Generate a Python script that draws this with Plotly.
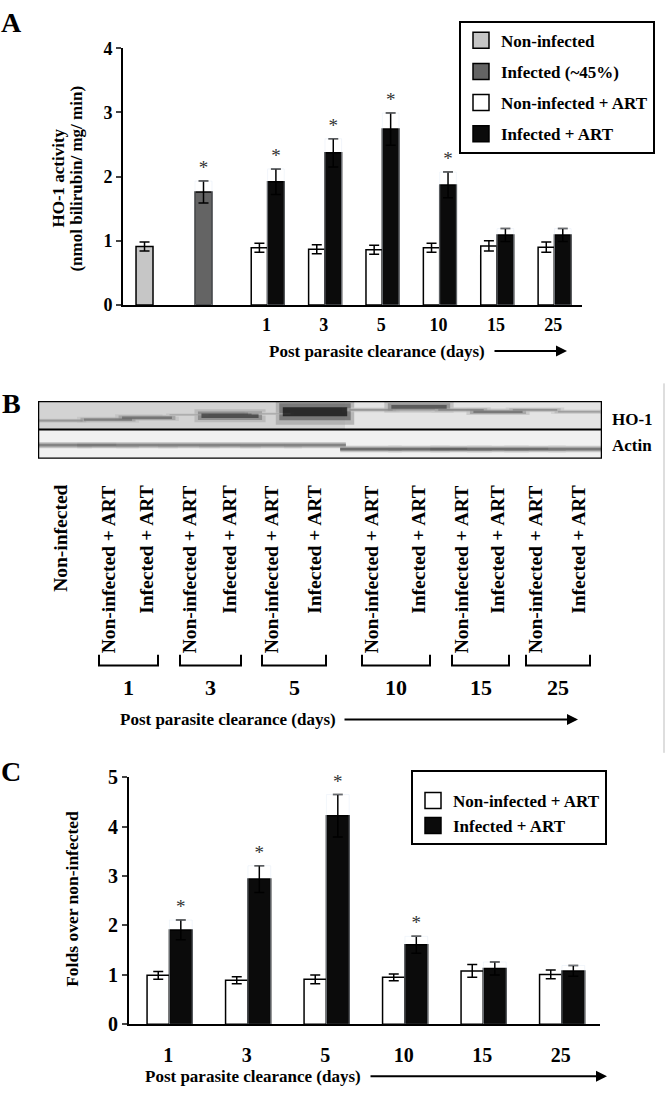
import plotly.graph_objects as go

W, H = 666, 1097
SERIF = "Liberation Serif, Times New Roman, serif"

# ---- panel A: HO-1 activity (nmol bilirubin / mg / min)
days = ["1", "3", "5", "10", "15", "25"]
ctrl_mean, ctrl_sd = [0.91], [0.07]
inf_mean, inf_sd = [1.76], [0.17]
a_ni_art = [0.89, 0.87, 0.86, 0.89, 0.92, 0.90]
a_ni_art_sd = [0.07, 0.07, 0.07, 0.07, 0.08, 0.08]
a_inf_art = [1.92, 2.37, 2.74, 1.87, 1.09, 1.09]
a_inf_art_sd = [0.20, 0.22, 0.25, 0.20, 0.10, 0.10]
a_sig = [True, True, True, True, False, False]

# ---- panel C: folds over non-infected
c_ni_art = [0.99, 0.89, 0.91, 0.95, 1.08, 1.01]
c_ni_art_sd = [0.08, 0.07, 0.09, 0.07, 0.13, 0.09]
c_inf_art = [1.91, 2.94, 4.22, 1.61, 1.13, 1.08]
c_inf_art_sd = [0.20, 0.27, 0.43, 0.17, 0.13, 0.11]
c_sig = [True, True, True, True, False, False]

# ---- panel B: western blot, band darkness 0..1
lanes = ["Non-infected"] + ["Non-infected + ART", "Infected + ART"] * 6
ho1_density = [0.42, 0.55, 0.60, 0.30, 0.80, 0.30, 1.00, 0.42, 0.75, 0.48, 0.58, 0.45, 0.38]
actin_density = [0.45, 0.50, 0.45, 0.45, 0.45, 0.45, 0.45, 0.55, 0.55, 0.60, 0.55, 0.55, 0.50]

# layout helpers (pixel -> paper)
def px(x):
    return x / W

def py(y):
    return 1 - y / H

lane_x = [61, 108, 147, 189, 230, 271, 315, 371, 419, 461, 498, 535, 579]
ho1_y = [418, 417, 415, 412, 413, 411, 409, 407, 404, 407, 409, 407, 409]
actin_y = [443] * 7 + [447] * 6

C_CTRL, C_INF, C_NI_ART, C_INF_ART = "#c6c6c6", "#646464", "#ffffff", "#0b0b0b"
ERR = dict(type="data", visible=True, color="black", thickness=1.5, width=5)

fig = go.Figure()


def bars(x, y, sd, color, off, wid, xa, ya):
    fig.add_trace(go.Bar(x=x, y=y, offset=off, width=wid, xaxis=xa, yaxis=ya,
                         marker=dict(color=color, line=dict(color="black", width=1.5)),
                         error_y=dict(array=sd, **ERR), showlegend=False, hoverinfo="skip"))


def stars(x, y, sd, sig, off, wid, xa, ya):
    fig.add_trace(go.Bar(x=x, y=[v + e for v, e in zip(y, sd)], offset=off, width=wid,
                         xaxis=xa, yaxis=ya, marker=dict(color="rgba(0,0,0,0)"),
                         text=["*" if s else "" for s in sig], textposition="outside",
                         constraintext="none", cliponaxis=False,
                         textfont=dict(family=SERIF, size=19, color="#333"),
                         showlegend=False, hoverinfo="skip"))


# panel A bars
bars(["ctrl"], ctrl_mean, ctrl_sd, C_CTRL, -0.273, 0.296, "x", "y")
bars(["inf"], inf_mean, inf_sd, C_INF, -0.245, 0.296, "x", "y")
stars(["inf"], inf_mean, inf_sd, [True], -0.245, 0.296, "x", "y")
bars(days, a_ni_art, a_ni_art_sd, C_NI_ART, -0.265, 0.285, "x", "y")
bars(days, a_inf_art, a_inf_art_sd, C_INF_ART, 0.02, 0.29, "x", "y")
stars(days, a_inf_art, a_inf_art_sd, a_sig, 0.02, 0.29, "x", "y")

# panel C bars
bars(days, c_ni_art, c_ni_art_sd, C_NI_ART, -0.27, 0.285, "x2", "y2")
bars(days, c_inf_art, c_inf_art_sd, C_INF_ART, 0.015, 0.29, "x2", "y2")
stars(days, c_inf_art, c_inf_art_sd, c_sig, 0.015, 0.29, "x2", "y2")

# legend entries
for name, col, leg in [("Non-infected", C_CTRL, "legend"), ("Infected (~45%)", C_INF, "legend"),
                       ("Non-infected + ART", C_NI_ART, "legend"), ("Infected + ART", C_INF_ART, "legend"),
                       ("Non-infected + ART", C_NI_ART, "legend2"), ("Infected + ART", C_INF_ART, "legend2")]:
    fig.add_trace(go.Scatter(x=[None], y=[None], mode="markers", name=name, legend=leg,
                             legendgroup=name + leg,
                             marker=dict(symbol="square", size=16, color=col,
                                         line=dict(color="black", width=1.5))))


# panel B blot bands: layered from soft halo to dark core
def gray(d, soften=0.0):
    g = int(232 - 222 * d * (1 - soften))
    return f"rgb({g},{g},{g})"


for soften, grow, scale in [(0.7, 10, 2.0), (0.4, 5, 1.3), (0.0, 0, 0.7)]:
    fig.add_trace(go.Scatter(
        x=lane_x, y=ho1_y, mode="markers", xaxis="x3", yaxis="y3",
        marker=dict(symbol="line-ew", size=[20 + 26 * d + grow for d in ho1_density],
                    line=dict(width=[(2 + 11 * d ** 4) * scale for d in ho1_density],
                              color=[gray(d, soften) for d in ho1_density])),
        showlegend=False, hoverinfo="skip"))
    fig.add_trace(go.Scatter(
        x=lane_x, y=actin_y, mode="markers", xaxis="x3", yaxis="y3",
        marker=dict(symbol="line-ew", size=44,
                    line=dict(width=3.2 * scale, color=[gray(d, soften) for d in actin_density])),
        showlegend=False, hoverinfo="skip"))

tick_font = dict(family=SERIF, size=18, color="black", weight="bold")
ax_common = dict(showgrid=False, zeroline=False, showline=True, linecolor="black", linewidth=2,
                 fixedrange=True)

fig.update_layout(
    width=W, height=H, margin=dict(l=0, r=0, t=0, b=0),
    paper_bgcolor="white", plot_bgcolor="white", barmode="overlay",
    font=dict(family=SERIF, color="black"),
    xaxis=dict(domain=[px(123), px(582)], type="category", range=[-0.5, 7.5],
               categoryorder="array", categoryarray=["ctrl", "inf"] + days,
               tickvals=days, ticktext=days, ticks="", ticklabelstandoff=2,
               tickfont=tick_font, **ax_common),
    yaxis=dict(domain=[py(300), py(38)], range=[0, 4], dtick=1, ticks="outside", ticklen=5,
               tickwidth=2, tickfont=tick_font, **ax_common),
    xaxis2=dict(domain=[px(129), px(600)], type="category", range=[-0.5, 5.5],
                ticks="", ticklabelstandoff=12, tickfont=dict(tick_font, size=20), anchor="y2",
                **ax_common),
    yaxis2=dict(domain=[py(1034), py(782)], range=[0, 5], dtick=1, ticks="outside", ticklen=5,
                tickwidth=2, tickfont=dict(tick_font, size=20), anchor="x2", **ax_common),
    xaxis3=dict(domain=[px(38), px(602)], range=[38, 602], visible=False, anchor="y3"),
    yaxis3=dict(domain=[py(457), py(398)], range=[457, 398], visible=False, anchor="x3"),
    legend=dict(x=px(459), y=py(10), xanchor="left", yanchor="top", bgcolor="white",
                bordercolor="black", borderwidth=2, tracegroupgap=6,
                font=dict(family=SERIF, size=17, weight="bold")),
    legend2=dict(x=px(411), y=py(775), xanchor="left", yanchor="top", bgcolor="white",
                 bordercolor="black", borderwidth=2, tracegroupgap=0,
                 title=dict(text=" ", font=dict(size=8)),
                 font=dict(family=SERIF, size=17, weight="bold")),
)

shapes = [
    dict(type="rect", xref="x3", yref="y3", x0=38, x1=345, y0=398, y1=427, layer="below",
         fillcolor="#d3d3d3", line_width=0),
    dict(type="rect", xref="x3", yref="y3", x0=345, x1=602, y0=398, y1=427, layer="below",
         fillcolor="#e4e4e4", line_width=0),
    dict(type="rect", xref="x3", yref="y3", x0=38, x1=602, y0=427, y1=457, layer="below",
         fillcolor="#f1f1f1", line_width=0),
    dict(type="rect", xref="x3", yref="y3", x0=38, x1=602, y0=398, y1=457,
         line=dict(color="black", width=2.5)),
    dict(type="line", xref="x3", yref="y3", x0=38, x1=602, y0=427, y1=427,
         line=dict(color="black", width=2)),
    dict(type="line", xref="paper", yref="paper", x0=px(664), x1=px(664), y0=py(380), y1=py(757),
         line=dict(color="#bdbdbd", width=1)),
]

annotations = []


def note(text, x, y, size, **kw):
    opts = dict(xanchor="center", yanchor="middle")
    opts.update(kw)
    annotations.append(dict(text=text, x=px(x), y=py(y), xref="paper", yref="paper",
                            showarrow=False, font=dict(family=SERIF, size=size, color="black"),
                            **opts))


def arrow(x0, x1, y):
    annotations.append(dict(text="", x=px(x1), y=py(y), xref="paper", yref="paper",
                            ax=-(x1 - x0), ay=0, showarrow=True, arrowhead=2, arrowsize=1.1,
                            arrowwidth=2, arrowcolor="black"))


# panel letters
note("<b>A</b>", 11, 12, 28)
note("<b>B</b>", 11, 401, 28)
note("<b>C</b>", 11, 776, 28)

# panel A titles
note("<b>HO-1 activity</b>", 59, 171, 17, textangle=-90)
note("<b>(nmol bilirubin/ mg/ min)</b>", 77, 171, 17, textangle=-90)
note("<b>Post parasite clearance (days)</b>", 377, 347, 17)
arrow(493, 567, 347)

# panel B labels
note("<b>HO-1</b>", 610, 417, 17, xanchor="left")
note("<b>Actin</b>", 610, 443, 17, xanchor="left")
for name, x in zip(lanes, lane_x):
    note(f"<b>{name}</b>", x, 482, 19.5, textangle=-90, yanchor="top")
pairs = [(lane_x[1 + 2 * i], lane_x[2 + 2 * i]) for i in range(6)]
for d, (a, b) in zip(days, pairs):
    x0, x1 = a - 9, b + 11
    shapes.append(dict(type="path", xref="x3", yref="paper",
                       path=f"M{x0},{py(657)} L{x0},{py(668)} L{x1},{py(668)} L{x1},{py(657)}",
                       line=dict(color="black", width=2)))
    note(f"<b>{d}</b>", (x0 + x1) / 2, 690, 22)
note("<b>Post parasite clearance (days)</b>", 228, 723, 17)
arrow(343, 578, 723)

# panel C titles
note("<b>Folds over non-infected</b>", 72, 906, 17.5, textangle=-90)
note("<b>Post parasite clearance (days)</b>", 253, 1087, 17)
arrow(369, 607, 1087)

fig.update_layout(shapes=shapes, annotations=annotations)
fig.write_html("out.html", config={"displayModeBar": False},
               post_script="document.body.style.margin='0';")
